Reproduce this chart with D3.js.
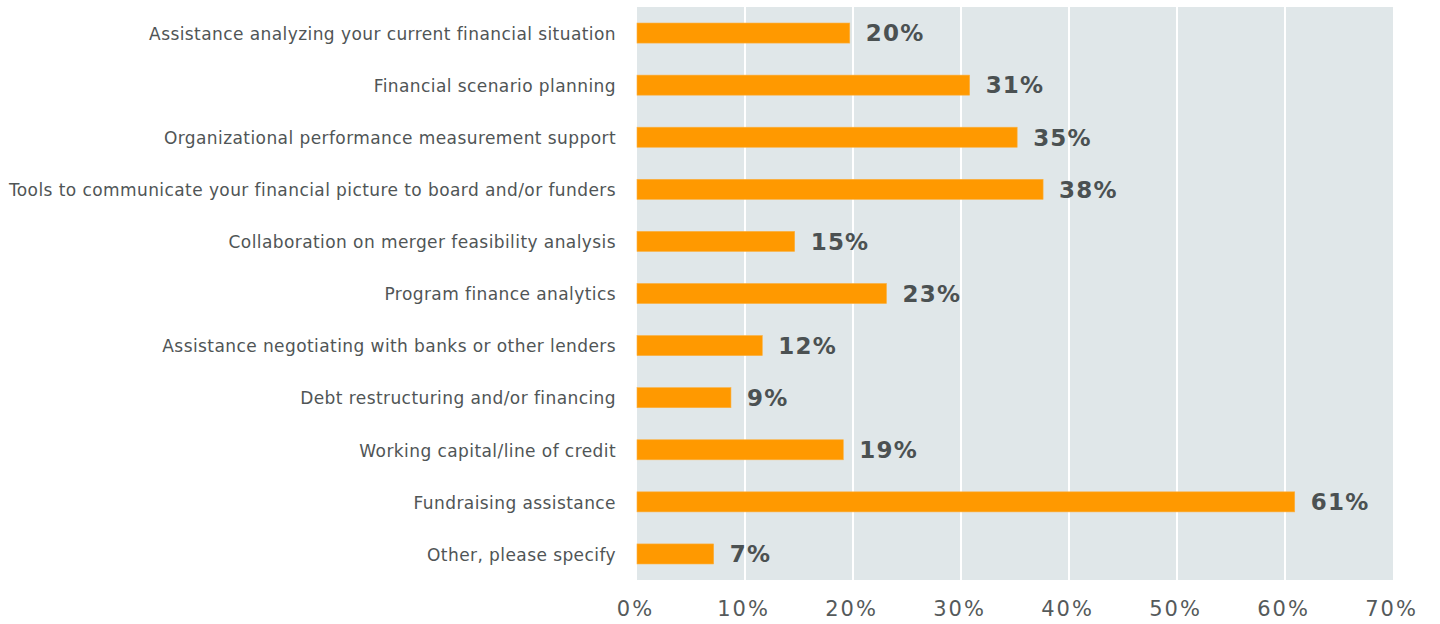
<!DOCTYPE html>
<html>
<head>
<meta charset="utf-8">
<script src="https://cdn.jsdelivr.net/npm/d3@7"></script>
<style>
  body { margin: 0; background: #fff; }
  text { font-family: "DejaVu Sans", Verdana, sans-serif; }
</style>
</head>
<body>
<div id="chart"></div>
<script>
// categories, top to bottom
const categories = [
  "Assistance analyzing your current financial situation",
  "Financial scenario planning",
  "Organizational performance measurement support",
  "Tools to communicate your financial picture to board and/or funders",
  "Collaboration on merger feasibility analysis",
  "Program finance analytics",
  "Assistance negotiating with banks or other lenders",
  "Debt restructuring and/or financing",
  "Working capital/line of credit",
  "Fundraising assistance",
  "Other, please specify"
];
// share of respondents (%)
const values = [19.7, 30.8, 35.2, 37.6, 14.6, 23.1, 11.6, 8.7, 19.1, 60.9, 7.1];
const xTicks = [0, 10, 20, 30, 40, 50, 60, 70];

const W = 1440, H = 624;
const margin = { top: 7, right: 47, bottom: 44, left: 637 };
const width = W - margin.left - margin.right;
const height = H - margin.top - margin.bottom;

const svg = d3.select("#chart").append("svg")
    .attr("width", W)
    .attr("height", H)
  .append("g")
    .attr("transform", `translate(${margin.left},${margin.top})`);

const x = d3.scaleLinear().domain([0, 70]).range([0, width]);
const y = d3.scaleBand().domain(categories).range([0, height]).paddingInner(0.615).paddingOuter(0.3075);

// plot background
svg.append("rect")
  .attr("width", width)
  .attr("height", height)
  .attr("fill", "#e0e7e9");

// vertical grid
svg.selectAll(".grid")
  .data(xTicks.slice(1, -1))
  .enter().append("line")
  .attr("x1", d => x(d)).attr("x2", d => x(d))
  .attr("y1", 0).attr("y2", height)
  .attr("stroke", "#fff")
  .attr("stroke-width", 2);

// bars
svg.selectAll(".bar")
  .data(values)
  .enter().append("rect")
  .attr("x", 0)
  .attr("y", (d, i) => y(categories[i]))
  .attr("width", d => x(d))
  .attr("height", y.bandwidth())
  .attr("fill", "#ff9900")
  .attr("stroke", "#fbb040")
  .attr("stroke-width", 0.6);

// value labels
svg.selectAll(".val")
  .data(values)
  .enter().append("text")
  .attr("x", d => x(d) + 16)
  .attr("y", (d, i) => y(categories[i]) + y.bandwidth() / 2)
  .attr("dy", "0.36em")
  .attr("fill", "#4b5152")
  .attr("font-size", 23)
  .attr("font-weight", "bold")
  .attr("letter-spacing", 1.2)
  .text(d => Math.round(d) + "%");

// y axis labels
svg.append("g")
  .call(d3.axisLeft(y).tickSize(0).tickPadding(21))
  .call(g => g.select(".domain").remove())
  .call(g => g.selectAll("text")
    .attr("dy", "0.4em")
    .attr("fill", "#505556")
    .attr("font-size", 17)
    .attr("letter-spacing", 0.42)
    .style("font-family", "'DejaVu Sans', Verdana, sans-serif"));

// x axis
svg.append("g")
  .attr("transform", `translate(0,${height})`)
  .call(d3.axisBottom(x).tickValues(xTicks).tickFormat(d => d + "%").tickSize(0).tickPadding(21))
  .call(g => g.select(".domain").remove())
  .call(g => g.selectAll("text")
    .attr("dx", -2)
    .attr("fill", "#555a5b")
    .attr("font-size", 21)
    .attr("letter-spacing", 2)
    .style("font-family", "'DejaVu Sans', Verdana, sans-serif"));
</script>
</body>
</html>
